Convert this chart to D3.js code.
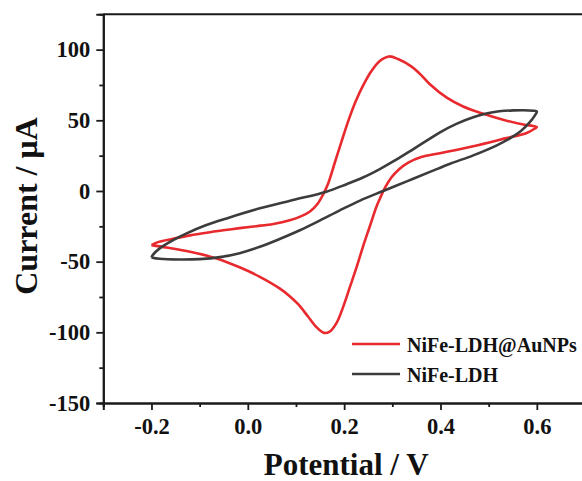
<!DOCTYPE html>
<html>
<head>
<meta charset="utf-8">
<script src="https://cdn.jsdelivr.net/npm/d3@7"></script>
<style>
  body { margin: 0; background: #fff; }
  svg { display: block; }
  text { font-family: "Liberation Serif", "Times New Roman", serif; font-weight: bold; fill: #111; }
</style>
</head>
<body>
<svg id="chart" width="582" height="481"></svg>
<script>
// tick values
const xMajor = [-0.2, 0.0, 0.2, 0.4, 0.6];
const xMinor = [-0.3, -0.1, 0.1, 0.3, 0.5];
const yMajor = [-150, -100, -50, 0, 50, 100];
const yMinor = [-125, -75, -25, 25, 75];

const seriesNames = ['NiFe-LDH@AuNPs', 'NiFe-LDH'];
const seriesColors = ['#e8292d', '#3c3c3c'];

// NiFe-LDH@AuNPs CV loop [potential V, current uA]
const auLoop = [
  [-0.2, -38.3], [-0.185, -36], [-0.155, -33.8], [-0.12, -31.4], [-0.086, -29.5], [-0.051, -27.8],
  [-0.017, -26.3], [0.018, -24.9], [0.053, -23.3], [0.087, -20.7], [0.11, -18], [0.129, -14.5],
  [0.145, -9], [0.157, -2], [0.167, 5.5], [0.181, 20.5], [0.195, 35.5], [0.209, 50], [0.224, 63.5],
  [0.24, 75], [0.257, 85], [0.274, 92], [0.293, 95.2], [0.313, 93.2], [0.34, 88], [0.36, 82],
  [0.378, 75.5], [0.413, 66], [0.447, 59.8], [0.489, 54.6], [0.53, 50.4], [0.572, 47], [0.592, 46], [0.6, 45.3],
  [0.596, 44.2], [0.579, 41], [0.537, 37.4], [0.468, 31.6], [0.399, 26.7], [0.36, 24],
  [0.333, 20], [0.313, 15], [0.298, 9.5], [0.286, 3], [0.276, -4], [0.267, -11.1], [0.253, -25.3],
  [0.239, -39.5], [0.226, -53.7], [0.212, -67.9], [0.198, -82], [0.184, -93.5], [0.17, -99.5],
  [0.158, -100.4], [0.143, -96.5], [0.125, -88.8], [0.105, -80.3], [0.087, -74.4], [0.066, -68.9],
  [0.025, -60.7], [-0.017, -54], [-0.065, -47.7], [-0.12, -43], [-0.169, -40], [-0.2, -38.3]
];

// NiFe-LDH CV loop
const ldhLoop = [
  [-0.2, -47], [-0.183, -48], [-0.141, -48.5], [-0.1, -48.2], [-0.058, -46.8], [-0.017, -44],
  [0.025, -39.5], [0.066, -34], [0.108, -27.8], [0.15, -20.8], [0.191, -13.7], [0.233, -6.8],
  [0.281, 0], [0.33, 6.8], [0.378, 13.5], [0.42, 19.3], [0.468, 25.2], [0.517, 32.3],
  [0.545, 37.4], [0.567, 42.5], [0.585, 48.5], [0.596, 53.5], [0.6, 56.2],
  [0.593, 56.8], [0.551, 57], [0.503, 55.4], [0.468, 52.2], [0.433, 47.5], [0.399, 41.5],
  [0.378, 37], [0.343, 29.5], [0.309, 22.3], [0.274, 15.5], [0.239, 9.5], [0.205, 4.8],
  [0.163, -0.5], [0.094, -6.4], [0.025, -12.3], [-0.044, -19.4], [-0.086, -24.1],
  [-0.127, -30], [-0.155, -34.8], [-0.183, -40.6], [-0.197, -45.2], [-0.2, -47]
];

var margin = {top: 14.3, left: 103.3, bottom: 78, right: -3};
var svg = d3.select('#chart');
var W = 582, H = 481;
var innerW = W - margin.left - margin.right;
var innerH = H - margin.top - margin.bottom;

var x = d3.scaleLinear().domain([-0.3, 0.7]).range([0, innerW]);
var y = d3.scaleLinear().domain([-150, 125]).range([innerH, 0]);

var g = svg.append('g').attr('transform', 'translate(' + margin.left + ',' + margin.top + ')');

// curves
var line = d3.line()
    .x(d => x(d[0]))
    .y(d => y(d[1]))
    .curve(d3.curveCatmullRom.alpha(0.5));

g.selectAll('path.cv')
  .data([auLoop, ldhLoop])
  .enter().append('path')
    .attr('class', 'cv')
    .attr('d', line)
    .attr('fill', 'none')
    .attr('stroke', (d, i) => seriesColors[i])
    .attr('stroke-width', 2.6)
    .attr('stroke-linejoin', 'round');

// axes
var xAxis = g.append('g').attr('transform', 'translate(0,' + innerH + ')')
    .call(d3.axisBottom(x).tickValues(xMajor).tickSize(7).tickPadding(8).tickFormat(d3.format('.1f')));
var xAxisMinor = g.append('g').attr('transform', 'translate(0,' + innerH + ')')
    .call(d3.axisBottom(x).tickValues(xMinor).tickSize(4).tickFormat(''));
var yAxis = g.append('g')
    .call(d3.axisLeft(y).tickValues(yMajor).tickSize(7).tickPadding(6).tickFormat(d3.format('d')));
var yAxisMinor = g.append('g')
    .call(d3.axisLeft(y).tickValues(yMinor).tickSize(4).tickFormat(''));

[xAxis, xAxisMinor, yAxis, yAxisMinor].forEach(function(a) {
  a.select('.domain').attr('stroke', '#1a1a1a').attr('stroke-width', 2);
  a.selectAll('.tick line').attr('stroke', '#1a1a1a').attr('stroke-width', 1.8);
  a.selectAll('.tick text')
    .style('font-family', '"Liberation Serif", serif')
    .style('font-weight', 'bold')
    .style('font-size', '22.5px')
    .attr('fill', '#111');
});
xAxis.selectAll('.tick text').text(d => d3.format('.1f')(d).replace('−', '-'));
yAxis.selectAll('.tick text').text(d => String(d));

// top frame line
g.append('line')
  .attr('x1', 0).attr('x2', innerW)
  .attr('y1', 0).attr('y2', 0)
  .attr('stroke', '#1a1a1a').attr('stroke-width', 2);

// axis titles
svg.append('text')
  .attr('x', margin.left + innerW / 2 + 2)
  .attr('y', 475)
  .attr('text-anchor', 'middle')
  .style('font-size', '31px')
  .text('Potential / V');

svg.append('text')
  .attr('transform', 'translate(37,' + 206 + ')rotate(-90)')
  .attr('text-anchor', 'middle')
  .style('font-size', '32px')
  .text('Current / μA');

// legend
var legend = svg.append('g')
    .selectAll('g')
    .data(seriesNames)
    .enter().append('g')
    .attr('transform', (d, i) => 'translate(352,' + (344 + i * 30) + ')');
legend.append('line')
  .attr('x1', 0).attr('x2', 48)
  .attr('stroke', (d, i) => seriesColors[i])
  .attr('stroke-width', 2.6);
legend.append('text')
  .attr('x', 55)
  .attr('y', 8)
  .style('font-size', '20px')
  .text(d => d);
</script>
</body>
</html>
